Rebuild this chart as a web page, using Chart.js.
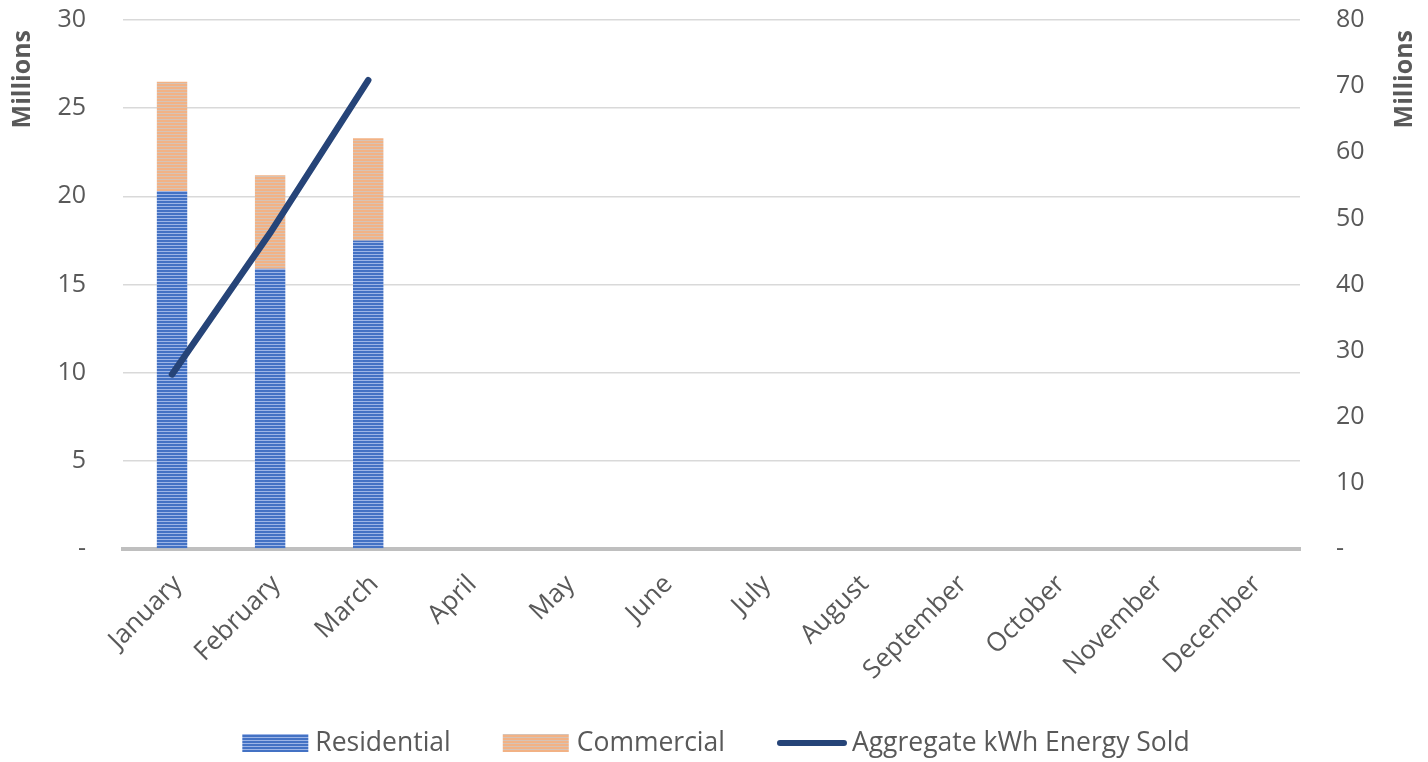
<!DOCTYPE html>
<html>
<head>
<meta charset="utf-8">
<script src="https://cdn.jsdelivr.net/npm/chart.js@4.4.1/dist/chart.umd.min.js"></script>
<style>
html,body{margin:0;padding:0;background:#fff;}
#wrap{width:1428px;height:762px;position:relative;}
</style>
</head>
<body>
<div id="wrap"><canvas id="c" width="1428" height="762"></canvas></div>
<script>
const months = ["January","February","March","April","May","June","July","August","September","October","November","December"];
const residential = [20.3, 15.9, 17.5, null, null, null, null, null, null, null, null, null];
const commercial = [6.2, 5.3, 5.8, null, null, null, null, null, null, null, null, null];
const aggregate = [26.4, 47.8, 70.9, null, null, null, null, null, null, null, null, null];
const seriesNames = ["Residential", "Commercial", "Aggregate kWh Energy Sold"];
const axisTitle = "Millions";

const FONT = "'Open Sans', sans-serif";
const TXT = "#595959";

function stripes(c1, c2) {
  const p = document.createElement('canvas');
  p.width = 4; p.height = 3;
  const g = p.getContext('2d');
  g.fillStyle = c1; g.fillRect(0,0,4,2);
  g.fillStyle = c2; g.fillRect(0,2,4,1);
  return g.createPattern(p, 'repeat');
}
const ctx = document.getElementById('c').getContext('2d');
const resPat = stripes('#4472C4', '#9DB5E6');
const comPat = stripes('#F2B285', '#D6C3B6');
const LINE_COLOR = '#264478';

const legendTitles = {
  id: 'legendTitles',
  afterDraw(chart) {
    const c = chart.ctx;
    c.save();
    c.fillStyle = TXT;
    c.font = "bold 25px " + FONT;
    c.textAlign = 'right';
    c.textBaseline = 'middle';
    c.save(); c.translate(23, 30); c.rotate(-Math.PI/2); c.fillText(axisTitle, 0, 0); c.restore();
    c.save(); c.translate(1405, 30); c.rotate(-Math.PI/2); c.fillText(axisTitle, 0, 0); c.restore();
    c.font = "26.5px " + FONT;
    c.textAlign = 'left';
    const ly = 743;
    const items = chart.data.datasets.map((d, i) => ({d, text: seriesNames[i], w: c.measureText(seriesNames[i]).width}));
    const symW = [66, 66, 70];
    const gapSym = [7, 8, 5];
    const gapItem = 52;
    let total = 0;
    items.forEach((it, i) => { total += symW[i] + gapSym[i] + it.w + (i < items.length - 1 ? gapItem : 0); });
    let x = 716 - total / 2;
    items.forEach((it, i) => {
      if (it.d.type === 'line') {
        c.strokeStyle = LINE_COLOR; c.lineWidth = 6; c.lineCap = 'round';
        c.beginPath(); c.moveTo(x + 3, ly); c.lineTo(x + symW[i] - 3, ly); c.stroke();
      } else {
        c.fillStyle = it.d.backgroundColor;
        c.fillRect(x, ly - 9, symW[i], 18);
      }
      x += symW[i] + gapSym[i];
      c.fillStyle = TXT;
      c.fillText(it.text, x, ly);
      x += it.w + gapItem;
    });
    c.restore();
  }
};

new Chart(ctx, {
  data: {
    labels: months,
    datasets: [
      { type: 'bar', label: seriesNames[0], data: residential, backgroundColor: resPat, yAxisID: 'y', stack: 's', order: 1, barPercentage: 0.31, categoryPercentage: 1 },
      { type: 'bar', label: seriesNames[1], data: commercial, backgroundColor: comPat, yAxisID: 'y', stack: 's', order: 2, barPercentage: 0.31, categoryPercentage: 1 },
      { type: 'line', label: seriesNames[2], data: aggregate, borderColor: LINE_COLOR, backgroundColor: LINE_COLOR, borderWidth: 6.5, borderCapStyle: 'round', pointRadius: 0, yAxisID: 'y1', order: 0, tension: 0 }
    ]
  },
  options: {
    responsive: false,
    animation: false,
    devicePixelRatio: 1,
    layout: { padding: { top: 20, bottom: 60, left: 0, right: 0 } },
    plugins: { legend: { display: false }, tooltip: { enabled: false } },
    scales: {
      x: {
        stacked: true,
        grid: { display: false, drawTicks: false },
        border: { display: true, color: '#BFBFBF', width: 4 },
        ticks: { color: TXT, font: { family: FONT, size: 26 }, minRotation: 45, maxRotation: 45, padding: 20, labelOffset: 6, autoSkip: false },
        afterFit(s) { s.height = 153; s.paddingLeft = 0; s.paddingRight = 0; }
      },
      y: {
        position: 'left',
        stacked: true,
        min: 0, max: 30,
        grid: { color: '#D9D9D9', lineWidth: 1.5, drawTicks: false },
        border: { display: false },
        ticks: { stepSize: 5, color: TXT, font: { family: FONT, size: 25 }, padding: 37, callback: v => v === 0 ? '-' : String(v) },
        afterFit(s) { s.width = 123; s.paddingTop = 0; s.paddingBottom = 0; }
      },
      y1: {
        position: 'right',
        min: 0, max: 80,
        grid: { display: false, drawTicks: false },
        border: { display: false },
        ticks: { stepSize: 10, color: TXT, font: { family: FONT, size: 25 }, padding: 36, callback: v => v === 0 ? '-' : String(v) },
        afterFit(s) { s.width = 128; s.paddingTop = 0; s.paddingBottom = 0; }
      }
    }
  },
  plugins: [legendTitles]
});
</script>
</body>
</html>
